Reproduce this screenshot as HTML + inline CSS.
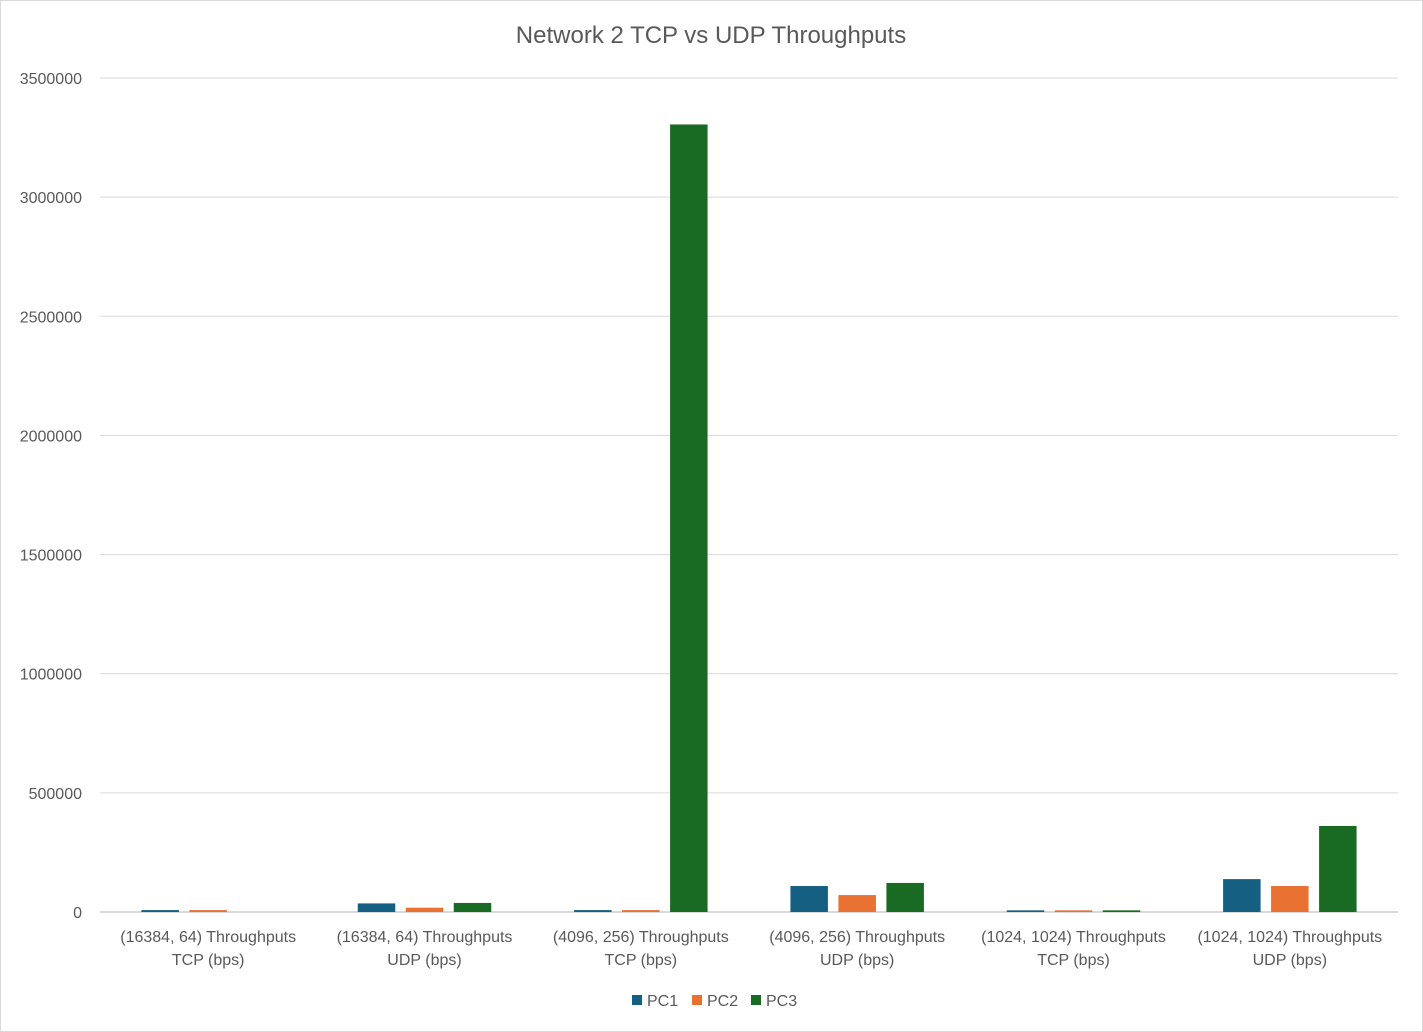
<!DOCTYPE html>
<html><head><meta charset="utf-8"><style>
body{margin:0;background:#fff;}
svg{display:block;font-family:"Liberation Sans",Arial,sans-serif;}
</style></head><body>
<svg id="chart" width="1423" height="1032">
<rect x="0.5" y="0.5" width="1422" height="1031" fill="#fff" stroke="#d9d9d9"/>
<text x="711" y="43" text-anchor="middle" font-size="24" fill="#595959">Network 2 TCP vs UDP Throughputs</text>
<g id="grid"></g><g id="bars"></g><g id="labels"></g>
<g id="legend"></g>
</svg>
<script>
const categories=[["(16384, 64) Throughputs","TCP (bps)"],["(16384, 64) Throughputs","UDP (bps)"],["(4096, 256) Throughputs","TCP (bps)"],["(4096, 256) Throughputs","UDP (bps)"],["(1024, 1024) Throughputs","TCP (bps)"],["(1024, 1024) Throughputs","UDP (bps)"]];
const seriesNames=["PC1","PC2","PC3"];
const pc1=[8000,36000,8000,109000,7000,138000];
const pc2=[8000,18000,8000,71000,7000,109000];
const pc3=[0,38000,3305000,122000,7000,361000];
const ticks=[0,500000,1000000,1500000,2000000,2500000,3000000,3500000];
const colors=["#156082","#e97132","#196b24"];
const NS="http://www.w3.org/2000/svg";
const L=100,R=1398,T=78,B=912,MAX=3500000;
const y=v=>B-(v/MAX)*(B-T);
const gw=(R-L)/categories.length;
function mk(tag,attrs,parent){const e=document.createElementNS(NS,tag);for(const k in attrs)e.setAttribute(k,attrs[k]);parent.appendChild(e);return e;}
const grid=document.getElementById('grid'),bars=document.getElementById('bars'),labels=document.getElementById('labels'),legend=document.getElementById('legend');
ticks.forEach(t=>{
 const ln=mk('line',{x1:L,x2:R,y1:y(t),y2:y(t),stroke:'#d9d9d9','stroke-width':t===0?2:1},grid);
 
 
 const tx=mk('text',{x:82,y:y(t)+6,'text-anchor':'end','font-size':16,fill:'#595959'},labels);
 tx.textContent=t;
 
 
});
const series=[pc1,pc2,pc3];
const bw=37.5,gap=10.5;
categories.forEach((c,i)=>{
 const cx=L+gw*(i+0.5);
 series.forEach((s,j)=>{
  const x=cx-bw*1.5-gap+j*(bw+gap);
  const r=mk('rect',{x:x,y:y(s[i]),width:bw,height:B-y(s[i]),fill:colors[j]},bars);
  
  
 });
 c.forEach((line,k)=>{
  const t=mk('text',{x:cx,y:942+k*23,'text-anchor':'middle','font-size':16,fill:'#595959'},labels);
  t.textContent=line;
  
  
 });
});
const lx=[632,692,751];
seriesNames.forEach((n,j)=>{
 const r=mk('rect',{x:lx[j],y:995,width:10,height:10,fill:colors[j]},legend);
 
 
 const t=mk('text',{x:lx[j]+15,y:1006,'font-size':16,fill:'#595959'},legend);
 t.textContent=n;
 
 
});
</script>
</body></html>
